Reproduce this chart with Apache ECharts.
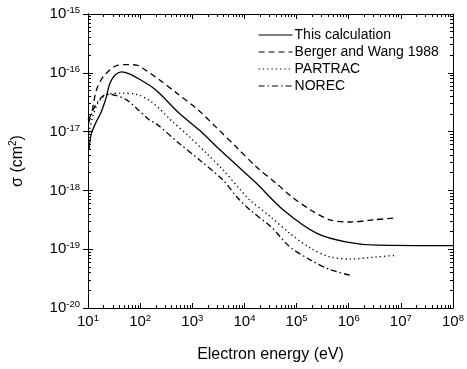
<!DOCTYPE html>
<html><head><meta charset="utf-8">
<script src="https://cdn.jsdelivr.net/npm/echarts@6/dist/echarts.min.js"></script>
<style>html,body{margin:0;padding:0;background:#fff}#c{width:467px;height:369px}</style>
</head><body><div id="c"></div>
<script>
const seriesNames = ['This calculation', 'Berger and Wang 1988', 'PARTRAC', 'NOREC'];
const thisCalculation = [
  [10.45, 4.9e-18], [11.6, 9.3e-18], [14.5, 1.48e-17], [16.8, 1.9e-17], [19.4, 2.6e-17],
  [22.5, 3.9e-17], [26.2, 6.6e-17], [32.7, 9.1e-17], [43.8, 1.04e-16], [63.6, 9.5e-17],
  [99, 7.7e-17], [166, 5.8e-17], [234, 4.5e-17], [562, 2.05e-17], [1380, 1.05e-17],
  [3310, 5.0e-18], [8130, 2.4e-18], [1.7e4, 1.32e-18], [5.5e4, 4.7e-19], [2.45e5, 1.86e-19],
  [9.3e5, 1.32e-19], [3.5e6, 1.17e-19], [1e8, 1.15e-19]
];
const bergerWang = [
  [10, 1.6e-17], [11.6, 2.0e-17], [14.5, 5.1e-17], [19.4, 8.5e-17], [26.2, 1.12e-16],
  [35.1, 1.32e-16], [50.9, 1.38e-16], [85.1, 1.35e-16], [120, 1.15e-16], [234, 7.6e-17],
  [490, 4.6e-17], [1290, 2.34e-17], [2880, 1.18e-17], [7080, 5.4e-18], [1.7e4, 2.5e-18],
  [4.17e4, 1.3e-18], [7.4e4, 8.3e-19], [1.82e5, 4.7e-19], [4.37e5, 3.16e-19],
  [1.07e6, 2.9e-19], [3.0e6, 3.16e-19], [7.9e6, 3.4e-19]
];
const partrac = [
  [10.4, 9.5e-18], [12.3, 1.78e-17], [15.3, 3.0e-17], [19.4, 3.9e-17], [26.5, 4.4e-17],
  [44, 4.5e-17], [85, 4.3e-17], [166, 3.2e-17], [417, 1.48e-17], [891, 8.1e-18],
  [1860, 4.3e-18], [3890, 2.24e-18], [8130, 1.05e-18], [1.26e4, 6.9e-19], [3.24e4, 3.5e-19],
  [7.4e4, 1.86e-19], [1.82e5, 1.05e-19], [4.37e5, 7.4e-20], [1.07e6, 6.8e-20],
  [3.47e6, 7.4e-20], [8.5e6, 7.9e-20]
];
const norec = [
  [10.2, 1.38e-17], [13, 2.5e-17], [16.6, 3.5e-17], [20.9, 4.2e-17], [26.2, 4.3e-17],
  [35.1, 4.1e-17], [54, 3.5e-17], [85, 2.5e-17], [150, 1.58e-17], [200, 1.38e-17],
  [562, 6.3e-18], [1380, 3.3e-18], [3890, 1.5e-18], [7080, 7.8e-19], [1.26e4, 4.7e-19],
  [3.24e4, 2.4e-19], [7.4e4, 1.1e-19], [1.82e5, 6.6e-20], [4.37e5, 4.5e-20], [1.07e6, 3.6e-20]
];
const xTickValues = [1e1, 1e2, 1e3, 1e4, 1e5, 1e6, 1e7, 1e8];
const yTickValues = [1e-20, 1e-19, 1e-18, 1e-17, 1e-16, 1e-15];

function minorOf(majors) {
  const out = [];
  for (let i = 0; i < majors.length - 1; i++)
    for (let k = 2; k <= 9; k++) out.push(k * majors[i]);
  return out;
}
const xMinor = minorOf(xTickValues);
const yMinor = minorOf(yTickValues);

const FONT = 'Liberation Sans, Arial, sans-serif';
function powLabel(v) {
  const e = Math.round(Math.log10(v));
  return '{b|10}{s|' + e + '}';
}
const richLab = {
  b: {fontSize: 15, fontFamily: FONT, color: '#000', lineHeight: 17},
  s: {fontSize: 9.5, fontFamily: FONT, color: '#000', lineHeight: 17, verticalAlign: 'top', padding: [0, 0, 6, 0]}
};
const lineC = {show: true, lineStyle: {color: '#000', width: 1}};

function xAx(pos, major, showLabel) {
  return {
    type: 'log', logBase: 10, min: 10, max: 1e8, position: pos, gridIndex: 0,
    axisLine: major ? lineC : {show: false},
    splitLine: {show: false}, minorTick: {show: false},
    axisTick: {show: true, inside: true, length: major ? 5 : 3, customValues: major ? xTickValues : xMinor,
      lineStyle: {color: '#000', width: 1}},
    axisLabel: showLabel ? {show: true, customValues: xTickValues, formatter: powLabel, rich: richLab, margin: 5} : {show: false},
    name: showLabel ? 'Electron energy (eV)' : '',
    nameLocation: 'middle', nameGap: 39,
    nameTextStyle: {fontSize: 16, fontFamily: FONT, color: '#000'}
  };
}
function yAx(pos, major, inside, showLabel) {
  return {
    type: 'log', logBase: 10, min: 1e-20, max: 1e-15, position: pos, gridIndex: 0,
    axisLine: major ? lineC : {show: false},
    splitLine: {show: false}, minorTick: {show: false},
    axisTick: {show: true, inside: inside, length: major ? 5 : 3, customValues: major ? yTickValues : yMinor,
      lineStyle: {color: '#000', width: 1}},
    axisLabel: showLabel ? {show: true, customValues: yTickValues, formatter: powLabel, rich: richLab, margin: 8} : {show: false},
    name: showLabel ? '{a|σ (cm}{s|2}{a|)}' : '',
    nameLocation: 'middle', nameGap: 60,
    nameTextStyle: {rich: {
      a: {fontSize: 16, fontFamily: FONT, color: '#000', lineHeight: 20},
      s: {fontSize: 10, fontFamily: FONT, color: '#000', lineHeight: 20, verticalAlign: 'top', padding: [0, 0, 8, 0]}
    }}
  };
}

const styles = [
  {type: 'solid'},
  {type: [6, 4]},
  {type: [1.3, 3]},
  {type: [6, 3, 1.5, 3]}
];
const datasets = [thisCalculation, bergerWang, partrac, norec];

const chart = echarts.init(document.getElementById('c'), null, {renderer: 'canvas'});
chart.setOption({
  animation: false,
  backgroundColor: '#fff',
  grid: {left: 88, right: 14, top: 14, bottom: 61, containLabel: false},
  legend: {
    left: 258, top: 27, orient: 'vertical', itemWidth: 34, itemHeight: 12, itemGap: 1, padding: 0,
    itemStyle: {opacity: 0},
    lineStyle: {width: 1.1},
    textStyle: {fontSize: 14, fontFamily: FONT, color: '#000', padding: [0, 0, 0, -3], lineHeight: 16},
    data: seriesNames
  },
  xAxis: [xAx('bottom', true, true), xAx('bottom', false, false), xAx('top', true, false), xAx('top', false, false)],
  yAxis: [yAx('left', true, false, true), yAx('left', true, true, false), yAx('left', false, true, false),
          yAx('right', true, true, false), yAx('right', false, true, false)],
  series: datasets.map((d, i) => ({
    name: seriesNames[i], type: 'line', data: d, xAxisIndex: 0, yAxisIndex: 0,
    showSymbol: false, symbol: 'none', smooth: 0.3,
    lineStyle: Object.assign({color: '#000', width: 1.3}, styles[i]),
    itemStyle: {color: '#000'}
  }))
});
</script></body></html>
